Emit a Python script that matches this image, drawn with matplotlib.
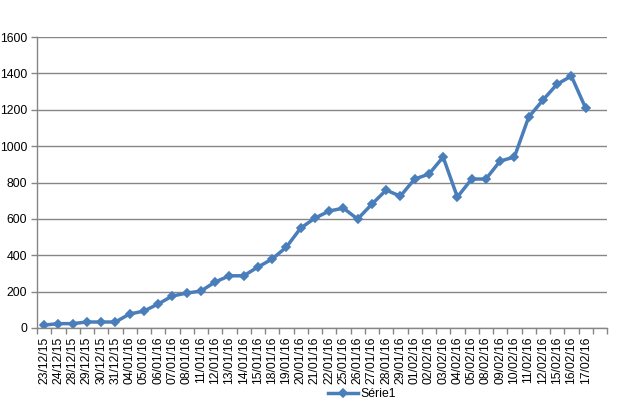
import numpy as np
import matplotlib
matplotlib.use('Agg')
import matplotlib.pyplot as plt

dates = ['23/12/15', '24/12/15', '28/12/15', '29/12/15', '30/12/15', '31/12/15',
         '04/01/16', '05/01/16', '06/01/16', '07/01/16', '08/01/16', '11/01/16',
         '12/01/16', '13/01/16', '14/01/16', '15/01/16', '18/01/16', '19/01/16',
         '20/01/16', '21/01/16', '22/01/16', '25/01/16', '26/01/16', '27/01/16',
         '28/01/16', '29/01/16', '01/02/16', '02/02/16', '03/02/16', '04/02/16',
         '05/02/16', '08/02/16', '09/02/16', '10/02/16', '11/02/16', '12/02/16',
         '15/02/16', '16/02/16', '17/02/16']
serie1 = [16, 24, 24, 33, 33, 33, 77, 93, 132, 176, 192, 203,
          253, 287, 287, 335, 379, 445, 549, 604, 643, 659, 599, 681,
          758, 725, 819, 846, 940, 720, 819, 819, 918, 940, 1159, 1253,
          1341, 1385, 1209]
n_cats = 40  # one empty category at the end

plt.rcParams['font.family'] = ['Liberation Sans', 'DejaVu Sans']

fig = plt.figure(figsize=(6.2, 4.05), dpi=100)
ax = fig.add_axes([37/620, 1 - 328/405, (607-37)/620, (328-37)/405])

x = np.arange(len(serie1))
ax.plot(x, serie1, color='#4A7EBB', linewidth=2.5, marker='D', markersize=4.5,
        markeredgewidth=1.2, markeredgecolor='#4A7EBB', label='Série1')

ax.set_xlim(-0.5, n_cats - 0.5)
ax.set_ylim(0, 1600)
ax.set_yticks(np.arange(0, 1601, 200))
ax.yaxis.grid(True, color='#868686', linewidth=1)
ax.set_axisbelow(True)

ax.set_xticks(x)
ax.set_xticklabels(dates, rotation=90, fontsize=8.8)
ax.set_xticks(np.arange(-0.5, n_cats, 1), minor=True)
ax.tick_params(axis='x', which='major', length=0, pad=6)
ax.tick_params(axis='x', which='minor', length=4, width=1, color='#868686')
ax.tick_params(axis='y', length=4, width=1, color='#868686', labelsize=8.8, pad=3)

for s in ['top', 'right']:
    ax.spines[s].set_visible(False)
for s in ['left', 'bottom']:
    ax.spines[s].set_color('#868686')
    ax.spines[s].set_linewidth(1)

fig.legend(loc='center', bbox_to_anchor=(362/620, 1 - 394/405), frameon=False,
           fontsize=8.8, handlelength=2.5, handletextpad=0.2)

fig.savefig('out.png', dpi=100)
